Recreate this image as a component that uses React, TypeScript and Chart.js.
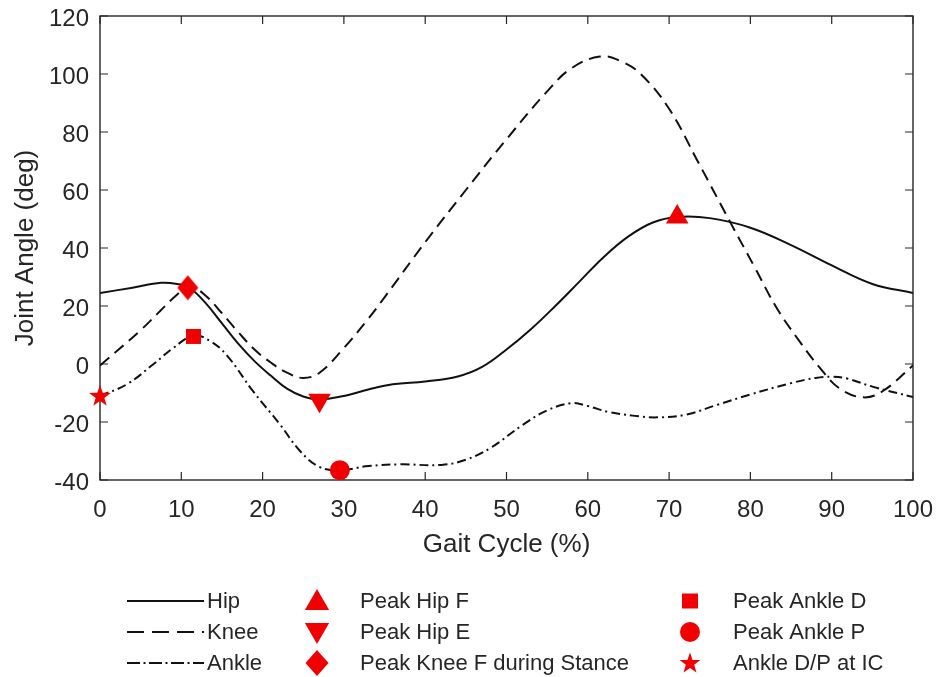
import React, { useEffect, useRef } from "react";
import { Chart, registerables } from "chart.js";

Chart.register(...registerables);

// ---- Data ----
const hipX = [0, 4, 7.5, 9.5, 11, 13, 15, 17, 19, 21, 23, 25, 27, 30, 33, 36, 40, 44, 47, 50, 53, 56, 59, 62, 65, 68, 71, 75, 80, 85, 90, 95, 100];
const hipY = [24.5, 26.3, 28, 27.6, 26.3, 21, 14, 7, 1, -4, -8.5, -11.2, -12.2, -11, -8.8, -7, -6, -4.3, -1, 5, 12, 20, 28.5, 37, 44, 48.8, 50.7, 50.3, 47, 41, 34, 27.6, 24.5];

const kneeX = [0, 4.9, 7.4, 9.5, 11, 13, 15, 17, 19, 21, 23, 25, 27, 30, 32.8, 35, 40, 45, 50, 55, 58, 61.5, 64, 66.5, 70, 73.5, 77.5, 80.5, 83.2, 86, 88.6, 91, 93.9, 96.3, 100];
const kneeY = [-0.5, 11.4, 18.3, 24, 27, 23.5, 17.5, 11, 5, 0.5, -3, -4.8, -3, 5.5, 14.9, 23, 42, 60, 77.5, 94, 102, 106, 104.5, 100, 88, 70, 49, 33.5, 19.5, 8, -1.5, -8.5, -11.5, -9.3, -0.5];

const ankleX = [0, 3.3, 6.6, 9, 11.5, 13.5, 15.6, 18.8, 22.1, 24.6, 27, 29.5, 33, 37, 42, 45, 48, 52, 55, 58, 60, 62.5, 65.5, 68.5, 72, 76, 80, 85, 88, 90, 92, 95, 100];
const ankleY = [-11, -7, 0, 5.5, 9.8, 8, 3, -9.3, -20.7, -30, -35.5, -36.6, -35.2, -34.6, -34.8, -33, -29, -21, -16, -13.5, -14.5, -16.5, -17.8, -18.4, -17.5, -14, -10.5, -6.6, -4.8, -4.4, -5.1, -7.8, -11.4];

const peakHipF = { x: 71, y: 50.7 };
const peakHipE = { x: 27, y: -12.5 };
const peakKneeF = { x: 10.8, y: 26.3 };
const peakAnkleD = { x: 11.5, y: 9.5 };
const peakAnkleP = { x: 29.5, y: -36.6 };
const ankleIC = { x: 0, y: -11 };

const xTicks = [0, 10, 20, 30, 40, 50, 60, 70, 80, 90, 100];
const yTicks = [-40, -20, 0, 20, 40, 60, 80, 100, 120];

const lineLabels = ["Hip", "Knee", "Ankle"];
const markerLabelsA = ["Peak Hip F", "Peak Hip E", "Peak Knee F during Stance"];
const markerLabelsB = ["Peak Ankle D", "Peak Ankle P", "Ankle D/P at IC"];

const xTitle = "Gait Cycle (%)";
const yTitle = "Joint Angle (deg)";

// ---- Styles ----
const FONT = "'Liberation Sans', Arial, Helvetica, sans-serif";
const TEXT = "#262626";
const RED = "#f00000";

const toXY = (xs: number[], ys: number[]) => xs.map((x, i) => ({ x, y: ys[i] }));

function starPath(ctx: CanvasRenderingContext2D, cx: number, cy: number, R: number, r: number) {
  ctx.beginPath();
  for (let i = 0; i < 10; i++) {
    const rad = (Math.PI / 5) * i - Math.PI / 2;
    const rr = i % 2 === 0 ? R : r;
    const px = cx + Math.cos(rad) * rr;
    const py = cy + Math.sin(rad) * rr;
    if (i === 0) ctx.moveTo(px, py);
    else ctx.lineTo(px, py);
  }
  ctx.closePath();
}

function diamondPath(ctx: CanvasRenderingContext2D, cx: number, cy: number, hw: number, hh: number) {
  ctx.beginPath();
  ctx.moveTo(cx, cy - hh);
  ctx.lineTo(cx + hw, cy);
  ctx.lineTo(cx, cy + hh);
  ctx.lineTo(cx - hw, cy);
  ctx.closePath();
}

function triPath(ctx: CanvasRenderingContext2D, cx: number, cy: number, r: number, down: boolean) {
  const s = down ? -1 : 1;
  ctx.beginPath();
  ctx.moveTo(cx, cy - s * r);
  ctx.lineTo(cx + r * Math.sin((2 * Math.PI) / 3), cy + s * r * 0.5);
  ctx.lineTo(cx - r * Math.sin((2 * Math.PI) / 3), cy + s * r * 0.5);
  ctx.closePath();
}

function makeImage(w: number, h: number, draw: (ctx: CanvasRenderingContext2D) => void) {
  const c = document.createElement("canvas");
  c.width = w;
  c.height = h;
  const ctx = c.getContext("2d")!;
  ctx.fillStyle = RED;
  draw(ctx);
  return c;
}

export default function App() {
  const ref = useRef<HTMLCanvasElement>(null);

  useEffect(() => {
    const canvas = ref.current;
    if (!canvas) return;

    const starImg = makeImage(24, 24, (ctx) => {
      starPath(ctx, 12, 12.5, 11.5, 4.6);
      ctx.fill();
    });
    const diamondImg = makeImage(22, 26, (ctx) => {
      diamondPath(ctx, 11, 13, 10.5, 12.5);
      ctx.fill();
    });

    const axesPlugin = {
      id: "axesBox",
      beforeDatasetsDraw(chart: any) {
        const { ctx, chartArea: a, scales } = chart;
        ctx.save();
        ctx.strokeStyle = TEXT;
        ctx.lineWidth = 1.4;
        ctx.strokeRect(a.left, a.top, a.right - a.left, a.bottom - a.top);
        ctx.lineWidth = 1.2;
        ctx.beginPath();
        for (const v of xTicks) {
          const px = scales.x.getPixelForValue(v);
          ctx.moveTo(px, a.bottom);
          ctx.lineTo(px, a.bottom - 8);
          ctx.moveTo(px, a.top);
          ctx.lineTo(px, a.top + 8);
        }
        for (const v of yTicks) {
          const py = scales.y.getPixelForValue(v);
          ctx.moveTo(a.left, py);
          ctx.lineTo(a.left + 8, py);
          ctx.moveTo(a.right, py);
          ctx.lineTo(a.right - 8, py);
        }
        ctx.stroke();

        // tick labels
        ctx.fillStyle = TEXT;
        ctx.font = `24px ${FONT}`;
        ctx.textBaseline = "alphabetic";
        ctx.textAlign = "center";
        for (const v of xTicks) {
          ctx.fillText(String(v), scales.x.getPixelForValue(v), a.bottom + 37);
        }
        ctx.textAlign = "right";
        for (const v of yTicks) {
          ctx.fillText(String(v), a.left - 11, scales.y.getPixelForValue(v) + 9.6);
        }

        // axis titles
        ctx.font = `26px ${FONT}`;
        ctx.textAlign = "center";
        ctx.fillText(xTitle, (a.left + a.right) / 2, 552);
        ctx.save();
        ctx.translate(33, (a.top + a.bottom) / 2);
        ctx.rotate(-Math.PI / 2);
        ctx.fillText(yTitle, 0, 0);
        ctx.restore();
        ctx.restore();
      },
    };

    const legendPlugin = {
      id: "customLegend",
      afterDraw(chart: any) {
        const ctx: CanvasRenderingContext2D = chart.ctx;
        const rows = [601, 632, 663];
        ctx.save();
        ctx.font = `22px ${FONT}`;
        ctx.fillStyle = TEXT;
        ctx.textBaseline = "middle";
        ctx.textAlign = "left";
        const dashes = [[], [17, 8], [13, 3.5, 2, 3.5]];
        rows.forEach((y, i) => {
          ctx.save();
          ctx.strokeStyle = "#111";
          ctx.lineWidth = 2;
          ctx.setLineDash(dashes[i]);
          ctx.beginPath();
          ctx.moveTo(127, y);
          ctx.lineTo(204, y);
          ctx.stroke();
          ctx.restore();
          ctx.fillText(lineLabels[i], 207, y + 1);
          ctx.fillText(markerLabelsA[i], 360, y + 1);
          ctx.fillText(markerLabelsB[i], 733, y + 1);
        });
        ctx.fillStyle = RED;
        triPath(ctx, 317, rows[0] + 2, 14, false);
        ctx.fill();
        triPath(ctx, 317, rows[1] - 2, 14, true);
        ctx.fill();
        diamondPath(ctx, 317, rows[2], 11.5, 13);
        ctx.fill();
        ctx.fillRect(690 - 8, rows[0] - 7.5, 16, 15);
        ctx.beginPath();
        ctx.arc(690, rows[1], 10, 0, Math.PI * 2);
        ctx.fill();
        starPath(ctx, 690, rows[2] + 0.5, 11, 4.4);
        ctx.fill();
        ctx.restore();
      },
    };

    const lineDs = (label: string, xs: number[], ys: number[], dash: number[]) => ({
      type: "line" as const,
      label,
      data: toXY(xs, ys),
      borderColor: "#111111",
      borderWidth: 2,
      borderDash: dash,
      pointRadius: 0,
      tension: 0.4,
      fill: false,
      order: 2,
    });

    const markerDs = (label: string, pt: { x: number; y: number }, style: any, radius: number, rotation = 0) => ({
      type: "line" as const,
      label,
      data: [pt],
      showLine: false,
      pointStyle: style,
      pointRadius: radius,
      pointRotation: rotation,
      pointBackgroundColor: RED,
      pointBorderColor: RED,
      pointBorderWidth: 0,
      clip: false as any,
      order: 0,
    });

    const chart = new Chart(canvas, {
      type: "line",
      data: {
        datasets: [
          markerDs(markerLabelsA[0], peakHipF, "triangle", 13),
          markerDs(markerLabelsA[1], peakHipE, "triangle", 13, 180),
          markerDs(markerLabelsA[2], peakKneeF, diamondImg, 12),
          markerDs(markerLabelsB[0], peakAnkleD, "rect", 10.6),
          markerDs(markerLabelsB[1], peakAnkleP, "circle", 10),
          markerDs(markerLabelsB[2], ankleIC, starImg, 12),
          lineDs(lineLabels[0], hipX, hipY, []),
          lineDs(lineLabels[1], kneeX, kneeY, [12, 7]),
          lineDs(lineLabels[2], ankleX, ankleY, [9, 4, 2, 4]),
        ] as any,
      },
      options: {
        responsive: false,
        animation: false,
        devicePixelRatio: 1,
        layout: { padding: { left: 100, right: 23, top: 16, bottom: 197 } },
        plugins: {
          legend: { display: false },
          tooltip: { enabled: false },
          title: { display: false },
        },
        scales: {
          x: { type: "linear", min: 0, max: 100, display: false },
          y: { type: "linear", min: -40, max: 120, display: false },
        },
      },
      plugins: [axesPlugin, legendPlugin],
    } as any);

    return () => chart.destroy();
  }, []);

  return (
    <div style={{ position: "absolute", left: 0, top: 0, width: 936, height: 677, background: "#ffffff" }}>
      <canvas ref={ref} width={936} height={677} style={{ display: "block" }} />
    </div>
  );
}
